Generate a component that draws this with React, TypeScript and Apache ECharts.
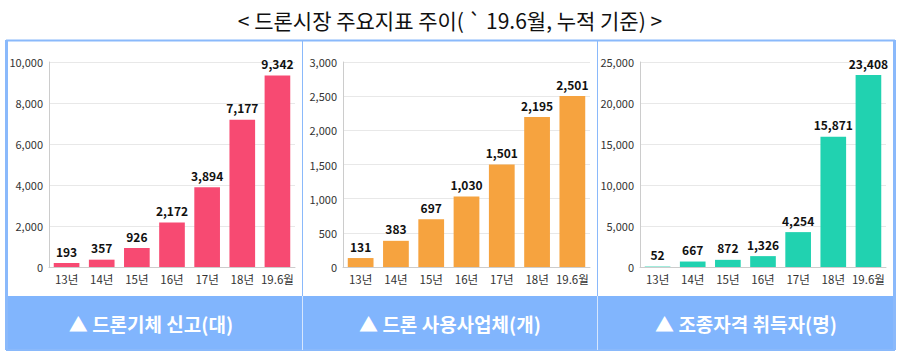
import React, { useEffect, useRef } from "react";
import * as echarts from "echarts";

const categories = ["13년", "14년", "15년", "16년", "17년", "18년", "19.6월"];
const droneRegistrations = [193, 357, 926, 2172, 3894, 7177, 9342];
const droneBusinesses = [131, 383, 697, 1030, 1501, 2195, 2501];
const pilotLicenses = [52, 667, 872, 1326, 4254, 15871, 23408];
const panelTitles = ["▲ 드론기체 신고(대)", "▲ 드론 사용사업체(개)", "▲ 조종자격 취득자(명)"];
const mainTitle = "< 드론시장 주요지표 주이( ` 19.6월, 누적 기준) >";
const axisMax = [10000, 3000, 25000];
const axisInterval = [2000, 500, 5000];

const FONT = "'Noto Sans CJK KR', 'Noto Sans', sans-serif";
const colors = ["#f74a72", "#f6a33f", "#21d2b0"];

export default function App() {
  const ref = useRef<HTMLDivElement>(null);
  useEffect(() => {
    document.body.style.margin = "0";
    const chart = echarts.init(ref.current!, undefined, { renderer: "svg" });
    const seriesData = [droneRegistrations, droneBusinesses, pilotLicenses];
    const grids = [
      { left: 49, right: 605, top: 62, bottom: 97 },
      { left: 343, right: 310, top: 62, bottom: 97 },
      { left: 640, right: 14, top: 62, bottom: 97 },
    ];
    const fmt = (v: number) => v.toLocaleString("en-US");
    chart.setOption({
      animation: false,
      textStyle: { fontFamily: FONT },
      grid: grids,
      xAxis: grids.map((_, i) => ({
        type: "category",
        gridIndex: i,
        data: categories,
        axisLine: { lineStyle: { color: "#cccccc" } },
        axisTick: { show: false },
        axisLabel: { interval: 0, color: "#333", fontSize: 11.5, fontFamily: FONT, margin: 6 },
      })),
      yAxis: grids.map((_, i) => ({
        type: "value",
        gridIndex: i,
        min: 0,
        max: axisMax[i],
        interval: axisInterval[i],
        axisLine: { show: true, lineStyle: { color: "#cccccc" } },
        axisTick: { show: false },
        splitLine: { lineStyle: { color: "#e8e8e8" } },
        axisLabel: { color: "#333", fontSize: 11, fontFamily: FONT, formatter: (v: number) => fmt(v), margin: 6 },
      })),
      series: seriesData.map((d, i) => ({
        type: "bar",
        xAxisIndex: i,
        yAxisIndex: i,
        data: d,
        barWidth: "73%",
        itemStyle: { color: colors[i] },
        label: {
          show: true,
          position: "top",
          distance: 6,
          color: "#111",
          fontSize: 12,
          fontWeight: "bold",
          fontFamily: FONT,
          formatter: (p: any) => fmt(p.value),
        },
      })),
      graphic: [
        {
          type: "text",
          x: 450,
          y: 20,
          style: {
            text: mainTitle,
            font: `normal 21px ${FONT}`,
            fill: "#111",
            align: "center",
            verticalAlign: "middle",
          },
        },
        {
          type: "rect",
          shape: { x: 7, y: 296, width: 887, height: 54 },
          style: { fill: "#81b5fd" },
        },
        {
          type: "rect",
          shape: { x: 7, y: 40.5, width: 887, height: 309.5 },
          style: { fill: "none", stroke: "#8ab9fb", lineWidth: 2 },
        },
        { type: "line", shape: { x1: 6.5, y1: 40, x2: 6.5, y2: 350 }, style: { stroke: "#8ab9fb", lineWidth: 3 } },
        { type: "line", shape: { x1: 894.5, y1: 40, x2: 894.5, y2: 350 }, style: { stroke: "#8ab9fb", lineWidth: 3 } },
        { type: "line", shape: { x1: 302.5, y1: 41, x2: 302.5, y2: 296 }, style: { stroke: "#8ab9fb", lineWidth: 1 } },
        { type: "line", shape: { x1: 597.5, y1: 41, x2: 597.5, y2: 296 }, style: { stroke: "#8ab9fb", lineWidth: 1 } },
        { type: "line", shape: { x1: 302.5, y1: 296, x2: 302.5, y2: 350 }, style: { stroke: "#d6e6fd", lineWidth: 1 } },
        { type: "line", shape: { x1: 597.5, y1: 296, x2: 597.5, y2: 350 }, style: { stroke: "#d6e6fd", lineWidth: 1 } },
        ...panelTitles.map((t, i) => ({
          type: "text",
          x: [151, 450, 746][i],
          y: 323,
          style: {
            text: t,
            font: `bold 19px ${FONT}`,
            fill: "#ffffff",
            align: "center",
            verticalAlign: "middle",
          },
        })),
      ],
    });
    return () => chart.dispose();
  }, []);
  return <div ref={ref} style={{ width: 900, height: 364 }} />;
}
